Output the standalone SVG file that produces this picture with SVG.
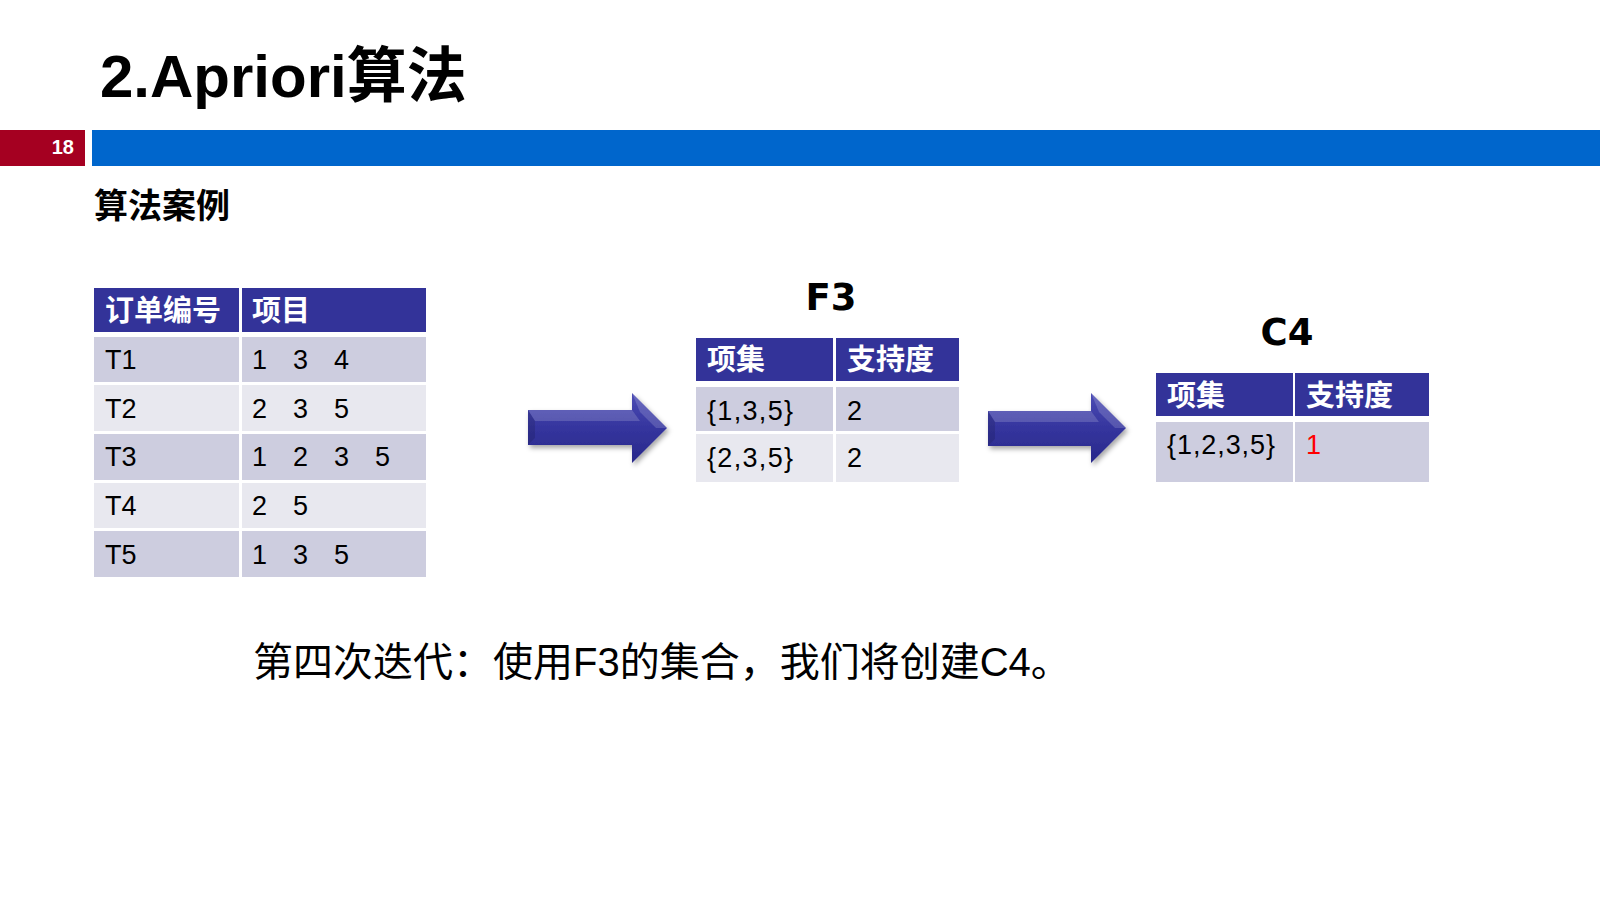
<svg xmlns="http://www.w3.org/2000/svg" width="1600" height="900" viewBox="0 0 1600 900">
<defs>
<style>
.cjk{font-family:"Liberation Sans","Noto Sans CJK SC",sans-serif}
.hd{font-family:"Liberation Sans","Noto Sans CJK SC",sans-serif;font-weight:bold;font-size:29px;fill:#fff}
.bd{font-family:"Liberation Sans","Noto Sans CJK SC",sans-serif;font-size:27px;fill:#000}
.red{fill:#FF0000}
.hbg{fill:#333399}
.r1{fill:#CDCDDF}
.r2{fill:#E8E8EF}
.ttl{font-family:"DejaVu Sans",sans-serif;font-weight:bold;font-size:37px;fill:#000;text-anchor:middle}
.arrow{fill:url(#ag);filter:url(#sh)}
.bev{fill:#fff;fill-opacity:0.16}
.bevd{fill:#000;fill-opacity:0.12}
</style>
<linearGradient id="ag" x1="0" y1="0" x2="0" y2="1">
<stop offset="0" stop-color="#4C4CB4"/>
<stop offset="0.5" stop-color="#35359E"/>
<stop offset="1" stop-color="#28288A"/>
</linearGradient>
<filter id="sh" x="-10%" y="-20%" width="130%" height="150%">
<feDropShadow dx="2" dy="3" stdDeviation="2.5" flood-color="#000" flood-opacity="0.35"/>
</filter>
</defs>
<rect width="1600" height="900" fill="#fff"/>
<g id="header">
<text x="100" y="97" class="cjk" font-size="60" font-weight="bold" fill="#000">2.Apriori算法</text>
<rect x="0" y="130" width="85" height="36" fill="#A50021"/>
<rect x="92" y="130" width="1508" height="36" fill="#0066CC"/>
<text x="74" y="154" class="cjk" font-size="20" font-weight="bold" fill="#fff" text-anchor="end">18</text>
<text x="94" y="218" class="cjk" font-size="34" font-weight="bold" fill="#000">算法案例</text>
</g>
<g id="table-transactions">
<rect x="94" y="288" width="145" height="44" class="hbg"/>
<rect x="242" y="288" width="184" height="44" class="hbg"/>
<text x="105" y="321" class="hd">订单编号</text>
<text x="252" y="321" class="hd">项目</text>
<rect x="94" y="337" width="145" height="45" class="r1"/><rect x="242" y="337" width="184" height="45" class="r1"/>
<rect x="94" y="385" width="145" height="46" class="r2"/><rect x="242" y="385" width="184" height="46" class="r2"/>
<rect x="94" y="434" width="145" height="46" class="r1"/><rect x="242" y="434" width="184" height="46" class="r1"/>
<rect x="94" y="483" width="145" height="45" class="r2"/><rect x="242" y="483" width="184" height="45" class="r2"/>
<rect x="94" y="531" width="145" height="46" class="r1"/><rect x="242" y="531" width="184" height="46" class="r1"/>
<text class="bd" x="105" y="369">T1</text>
<text class="bd" x="105" y="418">T2</text>
<text class="bd" x="105" y="466">T3</text>
<text class="bd" x="105" y="515">T4</text>
<text class="bd" x="105" y="564">T5</text>
<text class="bd" y="369"><tspan x="252">1</tspan><tspan x="293">3</tspan><tspan x="334">4</tspan></text>
<text class="bd" y="418"><tspan x="252">2</tspan><tspan x="293">3</tspan><tspan x="334">5</tspan></text>
<text class="bd" y="466"><tspan x="252">1</tspan><tspan x="293">2</tspan><tspan x="334">3</tspan><tspan x="375">5</tspan></text>
<text class="bd" y="515"><tspan x="252">2</tspan><tspan x="293">5</tspan></text>
<text class="bd" y="564"><tspan x="252">1</tspan><tspan x="293">3</tspan><tspan x="334">5</tspan></text>
</g>
<g id="table-f3">
<text x="831" y="310" class="ttl">F3</text>
<rect x="696" y="338" width="137" height="43" class="hbg"/>
<rect x="836" y="338" width="123" height="43" class="hbg"/>
<text x="707" y="370" class="hd">项集</text>
<text x="847" y="370" class="hd">支持度</text>
<rect x="696" y="387" width="137" height="44" class="r1"/><rect x="836" y="387" width="123" height="44" class="r1"/>
<rect x="696" y="434" width="137" height="48" class="r2"/><rect x="836" y="434" width="123" height="48" class="r2"/>
<text class="bd" x="707" y="420" textLength="86" lengthAdjust="spacing">{1,3,5}</text>
<text class="bd" x="847" y="420">2</text>
<text class="bd" x="707" y="467" textLength="86" lengthAdjust="spacing">{2,3,5}</text>
<text class="bd" x="847" y="467">2</text>
</g>
<g id="table-c4">
<text x="1287" y="345" class="ttl">C4</text>
<rect x="1156" y="373" width="137" height="43" class="hbg"/>
<rect x="1295" y="373" width="134" height="43" class="hbg"/>
<text x="1167" y="406" class="hd">项集</text>
<text x="1306" y="406" class="hd">支持度</text>
<rect x="1156" y="422" width="137" height="60" class="r1"/><rect x="1295" y="422" width="134" height="60" class="r1"/>
<text class="bd" x="1167" y="454" textLength="108" lengthAdjust="spacing">{1,2,3,5}</text>
<text class="bd red" x="1306" y="454">1</text>
</g>
<g id="connectors">
<polygon class="arrow" points="528,410 632,410 632,393 667,428 632,463 632,445 528,445"/>
<polygon class="bev" points="528,410 632,410 640,421 535,421"/>
<polygon class="bev" points="632,393 667,428 656,428 640,412"/>
<polygon class="bevd" points="528,410 535,421 535,438 528,445"/>
<polygon class="arrow" points="988,411 1091,411 1091,393 1126,428 1091,463 1091,446 988,446"/>
<polygon class="bev" points="988,411 1091,411 1099,422 995,422"/>
<polygon class="bev" points="1091,393 1126,428 1115,428 1099,412"/>
<polygon class="bevd" points="988,411 995,422 995,439 988,446"/>
</g>
<g id="caption">
<text x="253" y="676" class="cjk" font-size="40" fill="#000">第四次迭代：使用F3的集合，我们将创建C4。</text>
</g>
</svg>
